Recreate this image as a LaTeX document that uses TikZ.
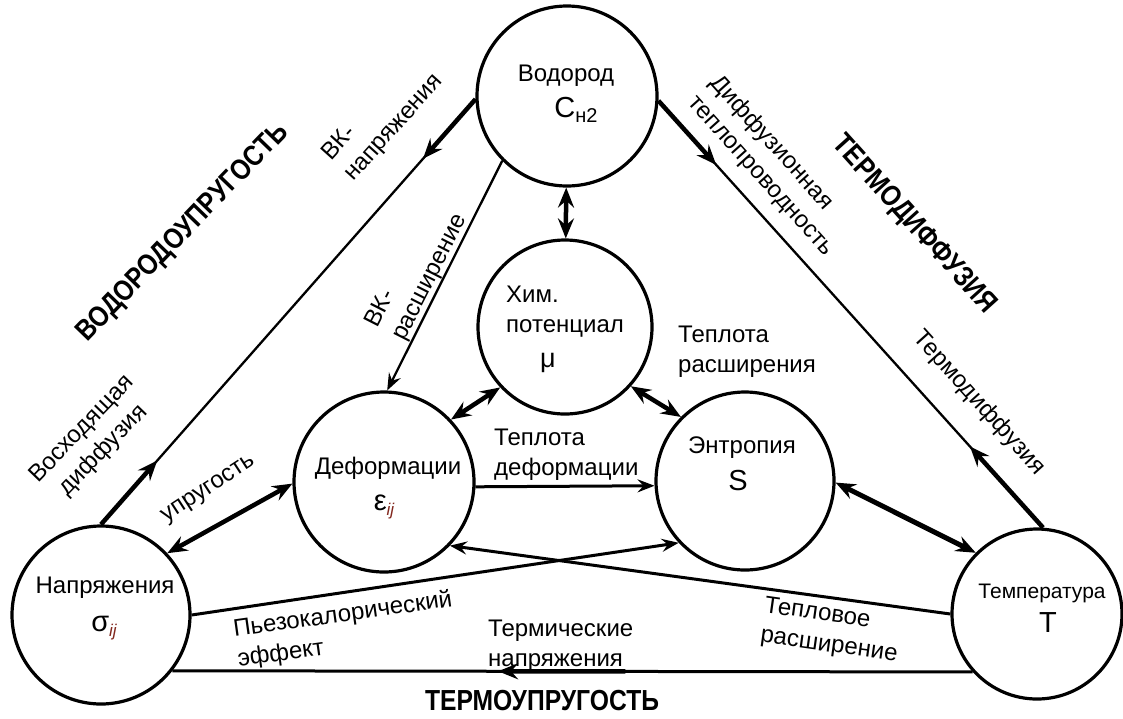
\documentclass[tikz,border=0pt]{standalone}
\usepackage{fontspec}
\usepackage{graphicx}
\setmainfont{Liberation Sans}
\usetikzlibrary{arrows.meta,calc}
\definecolor{ijred}{RGB}{130,40,30}
\newcommand{\boldlbl}[1]{\scalebox{0.85}[1]{\fontsize{29}{32}\selectfont\bfseries #1}}
\tikzset{
  circ/.style={circle, draw, line width=3.2pt, inner sep=0pt, minimum size=#1},
  lbl/.style={font=\fontsize{24}{30}\selectfont, inner sep=1pt},
  bigsym/.style={font=\fontsize{29}{30}\selectfont, inner sep=0pt},
  thinln/.style={line width=2.3pt},
  midln/.style={line width=3pt},
  thickln/.style={line width=4.5pt},
  arr/.style={-{Stealth[length=17pt,width=13pt,inset=6pt]}},
  bigarr/.style={-{Stealth[length=20pt,width=16pt,inset=7pt]}},
  darr/.style={{Stealth[length=20pt,width=16pt,inset=7pt]}-{Stealth[length=20pt,width=16pt,inset=7pt]}},
}
\begin{document}
\begin{tikzpicture}[x=1pt,y=-1pt]
\useasboundingbox[fill=white] (0,0) rectangle (1123,718);
% circles
\node[circ=180pt] (H) at (567,96) {};
\node[circ=174pt] (M) at (565,327) {};
\node[circ=180pt] (D) at (384,482) {};
\node[circ=178pt] (S) at (745,481) {};
\node[circ=178pt] (N) at (101,615) {};
\node[circ=170pt] (T) at (1037,614) {};
% circle texts
\node[lbl] (Ht) at (566,76) {Водород};
\node[inner sep=0pt] (Hs) at (576,110) {{\fontsize{29}{30}\selectfont C}\raisebox{-5pt}{\fontsize{20}{20}\selectfont н2}};
\node[lbl, align=left, anchor=west] (Mt) at (505,312) {Хим.\\потенциал};
\node[font=\fontsize{27}{30}\selectfont, inner sep=0pt] (Mm) at (548,363) {μ};
\node[lbl] (Dt) at (388,468) {Деформации};
\node[inner sep=0pt] (De) at (384,507) {{\fontsize{29}{30}\selectfont ε}\raisebox{-5pt}{\fontsize{17}{18}\selectfont\itshape\color{ijred}ij}};
\node[lbl] (St) at (742,448) {Энтропия};
\node[bigsym] (Ss) at (738,481) {S};
\node[lbl] (Nt) at (105,588) {Напряжения};
\node[inner sep=0pt] (Ns) at (104,628) {{\fontsize{29}{30}\selectfont σ}\raisebox{-5pt}{\fontsize{17}{18}\selectfont\itshape\color{ijred}ij}};
\node[font=\fontsize{21}{24}\selectfont, inner sep=0pt] (Tt) at (1042,593) {Температура};
\node[bigsym] (Ts) at (1048,623) {T};
% connectors
\draw[thickln, darr] (H) -- (M);
\draw[thinln, arr] (H.225) -- (D.88);
\draw[thinln] (N.90) -- (H.182);
\draw[thickln, bigarr] (H.182) -- ($(H.182)!0.14!(N.90)$);
\draw[thickln, bigarr] (N.90) -- ($(N.90)!0.15!(H.182)$);
\draw[thinln] (H.357) -- (T.86);
\draw[thickln, bigarr] (H.357) -- ($(H.357)!0.15!(T.86)$);
\draw[thickln, bigarr] (T.86) -- ($(T.86)!0.19!(H.357)$);
\draw[thickln, darr] (D.43) -- (M.223);
\draw[thickln, darr] (M.318) -- (S.135);
\draw[midln, arr] (D.357) -- (S.183);
\draw[thickln, darr] (N.43) -- (D.181);
\draw[line width=5pt, darr] (S.359) -- (T.135);
\draw[midln, arr] (N.0) -- (S.223);
\draw[midln, arr] (T.180) -- (D.316);
\draw[midln] (T.222) -- (N.322);
\draw[thickln, bigarr] ($(T.222)!0.434!(N.322)$) -- ($(T.222)!0.593!(N.322)$);
% connector labels
\node[lbl, rotate=48, align=left] (l1) at (383,118) {ВК-\\напряжения};
\node[lbl, rotate=63, align=left] (l2) at (417,271) {ВК-\\расширение};
\node[lbl, rotate=46, align=center] (l3) at (93,440) {Восходящая\\диффузия};
\node[lbl, rotate=33] (l4) at (209,490) {упругость};
\node[lbl, rotate=-48, align=left] (l5) at (772,166) {Диффузионная\\теплопроводность};
\node[lbl, rotate=-48] (l6) at (979,403) {Термодиффузия};
\node[lbl, align=left, anchor=west] (l7) at (677,352) {Теплота\\расширения};
\node[lbl, align=left, anchor=west] (l8) at (493,455) {Теплота\\деформации};
\node[lbl, rotate=8, align=left] (l9) at (345,630) {Пьезокалорический\\эффект};
\node[lbl, rotate=-8, align=left] (l10) at (831,631) {Тепловое\\расширение};
\node[lbl, align=left, anchor=west] (l11) at (487,646) {Термические\\напряжения};
% group titles
\node[rotate=46] (b1) at (183,233) {\boldlbl{ВОДОРОДОУПРУГОСТЬ}};
\node[rotate=-48] (b2) at (914,225) {\boldlbl{ТЕРМОДИФФУЗИЯ}};
\node (b3) at (542,701) {\boldlbl{ТЕРМОУПРУГОСТЬ}};
\end{tikzpicture}
\end{document}
